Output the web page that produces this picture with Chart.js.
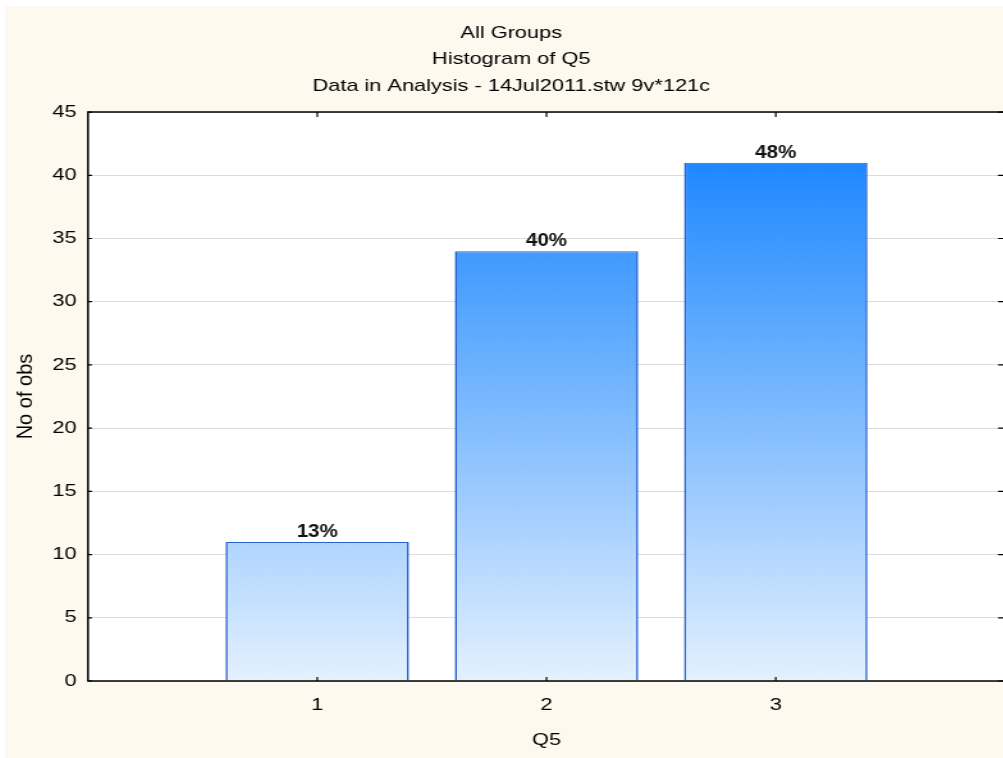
<!DOCTYPE html>
<html>
<head>
<meta charset="utf-8">
<title>Histogram of Q5</title>
<script src="https://cdn.jsdelivr.net/npm/chart.js@4.4.1/dist/chart.umd.min.js"></script>
<style>
  html, body { margin: 0; padding: 0; background: #ffffff; width: 1003px; height: 758px; overflow: hidden; }
  #sheet { position: absolute; left: 5px; top: 6px; width: 998px; height: 752px; overflow: hidden; background: #fef9ee; }
  /* the chart is laid out narrow and widened horizontally, like the wide-set original graph */
  #stage { position: absolute; left: 0; top: 0; width: 791px; height: 752px; transform: scaleX(1.28); transform-origin: 0 0; }
  #chart { display: block; width: 791px; height: 752px; }
</style>
</head>
<body>
<div id="sheet"><div id="stage"><canvas id="chart" width="791" height="752"></canvas></div></div>
<script>
// Histogram data
const categories = [1, 2, 3];
const counts = [11, 34, 41];
const yTicks = [0, 5, 10, 15, 20, 25, 30, 35, 40, 45];
const titleLines = ['All Groups', 'Histogram of Q5', 'Data in Analysis - 14Jul2011.stw 9v*121c'];
const xTitle = 'Q5';
const yTitle = 'No of obs';

const WIDEN = 1.28;          // horizontal stretch of #stage
const FONT = '"Liberation Sans", Arial, Helvetica, sans-serif';

Chart.defaults.font.family = FONT;
Chart.defaults.color = '#000000';

// white plot area, black axes with inward tick marks, vertical axis caption
const plotFrame = {
  id: 'plotFrame',
  beforeDraw(chart) {
    const { ctx, chartArea: a } = chart;
    ctx.save();
    ctx.fillStyle = '#ffffff';
    ctx.fillRect(a.left, a.top, chart.width - a.left, a.bottom - a.top);
    ctx.restore();
  },
  afterDraw(chart) {
    const { ctx, chartArea: a, scales: { x, y } } = chart;
    ctx.save();
    ctx.strokeStyle = '#000000';
    ctx.lineWidth = 1.5;
    ctx.beginPath();
    ctx.moveTo(a.right, a.top);
    ctx.lineTo(a.left, a.top);
    ctx.lineTo(a.left, a.bottom);
    ctx.lineTo(a.right, a.bottom);
    ctx.stroke();

    ctx.lineWidth = 1.2;
    ctx.beginPath();
    yTicks.forEach(v => {
      const py = y.getPixelForValue(v);
      ctx.moveTo(a.left, py);  ctx.lineTo(a.left + 4 / WIDEN, py);
      ctx.moveTo(a.right, py); ctx.lineTo(a.right - 7 / WIDEN, py);
    });
    categories.forEach(v => {
      const px = x.getPixelForValue(v);
      ctx.moveTo(px, a.bottom); ctx.lineTo(px, a.bottom - 4);
      ctx.moveTo(px, a.top);    ctx.lineTo(px, a.top + 5);
    });
    ctx.stroke();

    // vertical axis caption
    ctx.fillStyle = '#000000';
    ctx.font = '20px ' + FONT;
    ctx.textAlign = 'center';
    ctx.textBaseline = 'middle';
    ctx.translate(22 / WIDEN, (a.top + a.bottom) / 2);
    ctx.scale(1 / WIDEN, 1);
    ctx.rotate(-Math.PI / 2);
    ctx.fillText(yTitle, 0, 0);
    ctx.restore();
  }
};

// share of all observations written above each bar
const shareLabels = {
  id: 'shareLabels',
  afterDatasetsDraw(chart) {
    const { ctx } = chart;
    const total = counts.reduce((s, v) => s + v, 0);
    const bars = chart.getDatasetMeta(0).data;
    ctx.save();
    ctx.fillStyle = '#111111';
    ctx.font = 'bold 19px ' + FONT;
    ctx.textAlign = 'center';
    ctx.textBaseline = 'alphabetic';
    bars.forEach((bar, i) => {
      ctx.save();
      ctx.translate(bar.x, bar.y - 5);
      ctx.scale(1.08 / WIDEN, 1);
      ctx.fillText(Math.round(counts[i] / total * 100) + '%', 0, 0);
      ctx.restore();
    });
    ctx.restore();
  }
};

function barFill(context) {
  const { chart } = context;
  const { ctx, chartArea, scales } = chart;
  if (!chartArea || !scales.y) return '#7ab9fd';
  const y0 = scales.y.getPixelForValue(0);
  const y1 = scales.y.getPixelForValue(Math.max(...counts));
  const g = ctx.createLinearGradient(0, y0, 0, y1);
  g.addColorStop(0, '#e4f1fe');
  g.addColorStop(1, '#1e88ff');
  return g;
}

new Chart(document.getElementById('chart'), {
  type: 'bar',
  data: {
    datasets: [{
      data: categories.map((c, i) => ({ x: c, y: counts[i] })),
      backgroundColor: barFill,
      borderColor: '#2560d4',
      borderWidth: { top: 1.2, left: 1.6, right: 1.6, bottom: 0 },
      borderSkipped: false,
      categoryPercentage: 1.0,
      barPercentage: 0.8
    }]
  },
  options: {
    responsive: false,
    maintainAspectRatio: false,
    animation: false,
    devicePixelRatio: 1,
    layout: { padding: 0 },
    plugins: {
      legend: { display: false },
      tooltip: { enabled: false },
      title: {
        display: true,
        text: titleLines,
        color: '#000000',
        font: { size: 17, weight: 'normal', lineHeight: 1.56 },
        padding: { top: 13.75, bottom: 12.75 }
      }
    },
    scales: {
      x: {
        type: 'linear',
        min: 0,
        max: 4,
        offset: false,
        afterBuildTicks: s => { s.ticks = categories.map(v => ({ value: v })); },
        grid: { display: false, drawTicks: false },
        border: { display: false },
        ticks: { color: '#000000', font: { size: 17 }, padding: 14, maxRotation: 0, autoSkip: false },
        title: { display: true, text: xTitle, color: '#000000', font: { size: 17 }, padding: { top: 0, bottom: 7.8 } },
        afterFit: s => { s.height = 77; }
      },
      y: {
        min: 0,
        max: 45,
        afterBuildTicks: s => { s.ticks = yTicks.map(v => ({ value: v })); },
        grid: { color: '#dcdcdc', lineWidth: 1, drawTicks: false },
        border: { display: false },
        ticks: { color: '#000000', font: { size: 17 }, padding: 9 },
        title: { display: false },
        afterFit: s => { s.width = 83 / WIDEN; }
      },
      yRight: {
        position: 'right',
        min: 0,
        max: 45,
        grid: { display: false, drawTicks: false },
        border: { display: false },
        ticks: { display: false },
        afterFit: s => { s.width = 9.75; }
      }
    }
  },
  plugins: [plotFrame, shareLabels]
});
</script>
</body>
</html>
